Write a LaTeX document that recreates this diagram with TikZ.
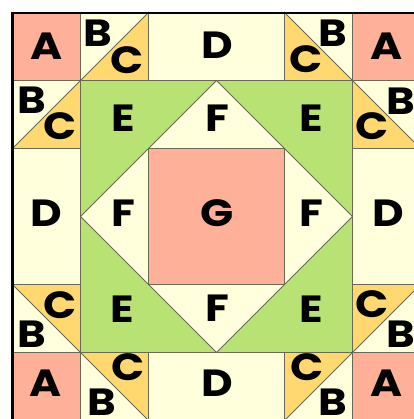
\documentclass[tikz,border=0pt]{standalone}
\usepackage{fontspec}
\newfontfamily\quiltfont[FakeStretch=1.15]{Poppins}
\definecolor{pinkA}{RGB}{255,176,152}
\definecolor{cream}{RGB}{255,255,220}
\definecolor{gold}{RGB}{255,216,112}
\definecolor{leaf}{RGB}{185,226,116}
\definecolor{seam}{RGB}{105,105,85}
\tikzset{
  piece/.style={draw=seam, line width=0.9bp, line join=miter},
  lbl/.style={font=\fontsize{38}{38}\selectfont\quiltfont\bfseries, inner sep=0pt, anchor=center}
}
\begin{document}
\begin{tikzpicture}[x=1bp,y=-1bp]
\useasboundingbox (0,0) rectangle (414,419);
\fill[white] (0,0) rectangle (414,419);
\begin{scope}
\clip (0,0) rectangle (414,419);
\def\ga{12.5}\def\gb{80.5}\def\gc{148.5}\def\gd{216.5}\def\ge{284.5}\def\gf{352.5}\def\gg{420.5}
% A squares
\foreach \x/\y in {\ga/\ga, \gf/\ga, \ga/\gf, \gf/\gf}
  \filldraw[piece, fill=pinkA] (\x,\y) rectangle ++(68,68);
% D rectangles
\filldraw[piece, fill=cream] (\gc,\ga) rectangle (\ge,\gb);
\filldraw[piece, fill=cream] (\gc,\gf) rectangle (\ge,\gg);
\filldraw[piece, fill=cream] (\ga,\gc) rectangle (\gb,\ge);
\filldraw[piece, fill=cream] (\gf,\gc) rectangle (\gg,\ge);
% half-square cells (cream background)
\foreach \x/\y in {\gb/\ga, \ge/\ga, \ga/\gb, \gf/\gb, \ga/\ge, \gf/\ge, \gb/\gf, \ge/\gf}
  \filldraw[piece, fill=cream] (\x,\y) rectangle ++(68,68);
% C triangles
\filldraw[piece, fill=gold] (\gb,\gb) -- (\gc,\ga) -- (\gc,\gb) -- cycle;
\filldraw[piece, fill=gold] (\ga,\gc) -- (\gb,\gb) -- (\gb,\gc) -- cycle;
\filldraw[piece, fill=gold] (\ge,\ga) -- (\ge,\gb) -- (\gf,\gb) -- cycle;
\filldraw[piece, fill=gold] (\gf,\gb) -- (\gf,\gc) -- (\gg,\gc) -- cycle;
\filldraw[piece, fill=gold] (\ga,\ge) -- (\gb,\ge) -- (\gb,\gf) -- cycle;
\filldraw[piece, fill=gold] (\gb,\gf) -- (\gc,\gf) -- (\gc,\gg) -- cycle;
\filldraw[piece, fill=gold] (\gf,\ge) -- (\gg,\ge) -- (\gf,\gf) -- cycle;
\filldraw[piece, fill=gold] (\ge,\gf) -- (\gf,\gf) -- (\ge,\gg) -- cycle;
% centre
\filldraw[piece, fill=leaf] (\gb,\gb) rectangle (\gf,\gf);
\filldraw[piece, fill=cream] (\gd,\gb) -- (\gf,\gd) -- (\gd,\gf) -- (\gb,\gd) -- cycle;
\filldraw[piece, fill=pinkA] (\gc,\gc) rectangle (\ge,\ge);
% outer border
\draw[black, line width=2bp] (\ga,420) -- (\ga,\ga) -- (414,\ga);
\end{scope}
% labels
\node[lbl] (a1) at (47,46) {A};
\node[lbl] (b1) at (98,33) {B};
\node[lbl] (c1) at (127,60) {C};
\node[lbl] (d1) at (217,45) {D};
\node[lbl] (c2) at (306,59) {C};
\node[lbl] (b2) at (333,33) {B};
\node[lbl] (a2) at (387,46) {A};
\node[lbl] (b3) at (32,100) {B};
\node[lbl] (c3) at (60,126) {C};
\node[lbl] (e1) at (123,118) {E};
\node[lbl] (f1) at (217,118) {F};
\node[lbl] (e2) at (311,118) {E};
\node[lbl] (c4) at (372,126) {C};
\node[lbl] (b4) at (401,101) {B};
\node[lbl] (d2) at (46,213) {D};
\node[lbl] (f2) at (123,213) {F};
\node[lbl] (g1) at (217,213) {G};
\node[lbl] (f3) at (311,213) {F};
\node[lbl] (d3) at (388,213) {D};
\node[lbl] (c5) at (60,305) {C};
\node[lbl] (b5) at (32,334) {B};
\node[lbl] (e3) at (122,309) {E};
\node[lbl] (f4) at (217,308) {F};
\node[lbl] (e4) at (311,309) {E};
\node[lbl] (c6) at (372,304) {C};
\node[lbl] (b6) at (401,334) {B};
\node[lbl] (a3) at (46,383) {A};
\node[lbl] (b7) at (102,402) {B};
\node[lbl] (c7) at (128,367) {C};
\node[lbl] (d4) at (217,383) {D};
\node[lbl] (c8) at (307,367) {C};
\node[lbl] (b8) at (333,402) {B};
\node[lbl] (a4) at (387,383) {A};
\end{tikzpicture}
\end{document}
